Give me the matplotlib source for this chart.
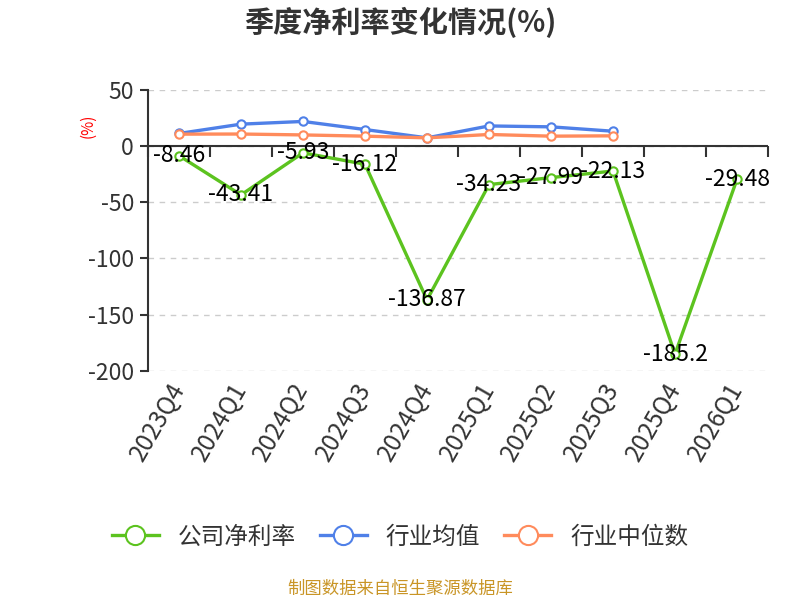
import numpy as np
import matplotlib
matplotlib.use("Agg")
import matplotlib.pyplot as plt

plt.rcParams['font.family'] = ['Noto Sans CJK SC', 'DejaVu Sans']
plt.rcParams['axes.unicode_minus'] = False

# data
quarters = ["2023Q4", "2024Q1", "2024Q2", "2024Q3", "2024Q4",
            "2025Q1", "2025Q2", "2025Q3", "2025Q4", "2026Q1"]
company = [-8.46, -43.41, -5.93, -16.12, -136.87, -34.23, -27.99, -22.13, -185.2, -29.48]
industry_avg = [11.3, 19.6, 22.0, 14.8, 7.4, 18.0, 17.2, 13.3]
industry_median = [10.7, 10.8, 10.0, 8.9, 7.4, 10.4, 8.9, 9.2]

GREEN = "#5cc31f"
BLUE = "#4f80e8"
ORANGE = "#ff8b5c"

fig = plt.figure(figsize=(8, 6), dpi=100)
ax = fig.add_axes([0.185, 0.382, 0.775, 0.468])

x = np.arange(len(quarters))
mk = dict(marker="o", markersize=6, markerfacecolor="white", markeredgewidth=1.5)
ax.plot(x, company, color=GREEN, lw=2.4, label="公司净利率", zorder=3, **mk)
ax.plot(x[:len(industry_avg)], industry_avg, color=BLUE, lw=2.4, label="行业均值", zorder=3, **mk)
ax.plot(x[:len(industry_median)], industry_median, color=ORANGE, lw=2.4, label="行业中位数", zorder=3, **mk)

for i, v in enumerate(company):
    ax.text(i, v, f"{v:g}", ha="center", va="center", fontsize=16.5, color="black", zorder=4)

ymin, ymax = -200, 50
ax.set_ylim(ymin, ymax)
ax.set_xlim(-0.5, len(quarters) - 0.5)
ax.set_yticks([50, -50, -100, -150, -200, 0])
ax.yaxis.grid(True, linestyle=(0, (4, 4)), color="#cccccc", lw=1)
ax.set_axisbelow(True)

for s in ["top", "right", "bottom"]:
    ax.spines[s].set_visible(False)
ax.spines["left"].set_color("#333333")
ax.spines["left"].set_linewidth(1.5)
ax.tick_params(axis="y", length=6, width=1.5, color="#333333", labelsize=16.5, labelcolor="#333333", pad=4)

# solid axis line at zero
ax.axhline(0, color="#333333", lw=1.5, zorder=2)

# category labels at the bottom
ax.set_xticks(x)
ax.set_xticklabels(quarters, rotation=60, ha="right", va="center", rotation_mode="anchor",
                   fontsize=17.5, color="#333333")
ax.tick_params(axis="x", length=0, pad=10)

# boundary ticks along the zero line
zero_pos = (0 - ymin) / (ymax - ymin)
sec = ax.secondary_xaxis(zero_pos)
sec.spines["bottom"].set_visible(False)
sec.spines["top"].set_visible(False)
sec.set_xticks(np.arange(len(quarters) + 1) - 0.5)
sec.set_xticklabels([])
sec.xaxis.set_ticks_position("bottom")
sec.tick_params(axis="x", direction="out", length=8, width=1.5, color="#333333")

fig.text(0.11, 0.79, "(%)", rotation=90, color="red", fontsize=11, ha="center", va="center")

fig.suptitle("季度净利率变化情况(%)", x=0.5, y=0.963, fontsize=21, fontweight="bold",
             color="#333333", va="center")

fig.legend(loc="center", bbox_to_anchor=(0.5, 0.105), ncol=3, frameon=False, fontsize=17,
           handlelength=2.0, columnspacing=1.0, handletextpad=0.8, markerscale=2.3,
           labelcolor="#333333")

fig.text(0.5, 0.018, "制图数据来自恒生聚源数据库", ha="center", va="center", fontsize=12.5,
         color="#c99526")

fig.savefig("out.png", dpi=100)
